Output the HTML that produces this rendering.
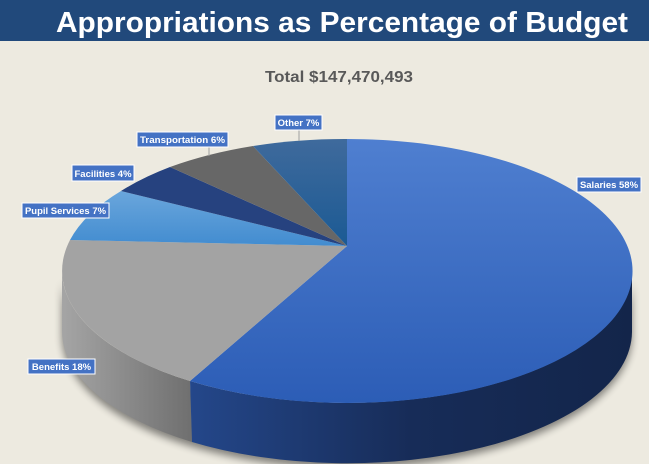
<!DOCTYPE html>
<html><head><meta charset="utf-8"><style>html,body{margin:0;padding:0;background:#edeae0;}svg{display:block}</style></head>
<body>
<svg width="649" height="464" viewBox="0 0 649 464" xmlns="http://www.w3.org/2000/svg" font-family="Liberation Sans, sans-serif">
<defs>
<linearGradient id="sideB" x1="0" x2="1" y1="0" y2="0"><stop offset="0" stop-color="#24478a"/><stop offset="0.5" stop-color="#172c58"/><stop offset="1" stop-color="#13254a"/></linearGradient>
<linearGradient id="sideG" x1="0" x2="1" y1="0" y2="0"><stop offset="0" stop-color="#a5a5a5"/><stop offset="1" stop-color="#6f6f6f"/></linearGradient>
<linearGradient id="sal" x1="0" x2="0" y1="0" y2="1"><stop offset="0" stop-color="#4f7fd0"/><stop offset="1" stop-color="#2c5db6"/></linearGradient>
<linearGradient id="oth" x1="0" x2="0" y1="0" y2="1"><stop offset="0" stop-color="#3f6a9c"/><stop offset="1" stop-color="#1b5a94"/></linearGradient>
<linearGradient id="pup" x1="0" x2="0" y1="0" y2="1"><stop offset="0" stop-color="#6aa6dc"/><stop offset="1" stop-color="#428cd0"/></linearGradient>
<filter id="sh" x="-10%" y="-10%" width="120%" height="130%"><feGaussianBlur stdDeviation="4"/></filter>
</defs>
<rect width="649" height="464" fill="#edeae0"/>
<rect width="649" height="41" fill="#21497b"/>
<text x="56" y="32" font-size="29" font-weight="bold" fill="#fff" textLength="572" lengthAdjust="spacingAndGlyphs">Appropriations as Percentage of Budget</text>
<text x="339" y="82" font-size="16" font-weight="bold" fill="#595959" text-anchor="middle" textLength="148" lengthAdjust="spacingAndGlyphs">Total $147,470,493</text>
<!-- shadow -->
<path d="M62 278 A285 132 0 0 0 632 278 L632 336 A285 132 0 0 1 62 336 Z" fill="#000" opacity="0.45" filter="url(#sh)"/>
<!-- sides -->
<path d="M62 271 A285 132 0 0 0 190 381 L192 442 A285 132 0 0 1 62 332 Z" fill="url(#sideG)"/>
<path d="M190 381 A285 132 0 0 0 632 271 L632 332 A285 132 0 0 1 192 442 Z" fill="url(#sideB)"/>
<!-- top -->
<path d="M347 246 L347 139 A285 132 0 1 1 190 381 Z" fill="url(#sal)"/>
<path d="M347 246 L190 381 A285 132 0 0 1 70 240 Z" fill="#a3a3a3"/>
<path d="M347 246 L70 240 A285 132 0 0 1 121 191 Z" fill="url(#pup)"/>
<path d="M347 246 L121 191 A285 132 0 0 1 170 167 Z" fill="#26427f"/>
<path d="M347 246 L170 167 A285 132 0 0 1 253 146 Z" fill="#676767"/>
<path d="M347 246 L253 146 A285 132 0 0 1 347 139 Z" fill="url(#oth)"/>
<!-- leader lines -->
<g stroke="#a0a0a0" stroke-width="1">
<line x1="299" y1="130" x2="299" y2="141"/>
<line x1="209" y1="147" x2="209" y2="156"/>
</g>
<!-- labels -->
<g font-size="9.5" font-weight="bold" fill="#fff">
<rect x="577" y="177" width="64" height="15" fill="#4472c4" stroke="#fff"/><text x="609" y="188" text-anchor="middle">Salaries 58%</text>
<rect x="28" y="359" width="67" height="15" fill="#4472c4" stroke="#fff"/><text x="61.5" y="370" text-anchor="middle">Benefits 18%</text>
<rect x="22" y="203" width="87" height="15" fill="#4472c4" stroke="#fff"/><text x="65.5" y="214" text-anchor="middle" textLength="81" lengthAdjust="spacingAndGlyphs">Pupil Services 7%</text>
<rect x="72" y="165" width="62" height="16" fill="#4472c4" stroke="#fff"/><text x="103" y="177" text-anchor="middle">Facilities 4%</text>
<rect x="137" y="132" width="91" height="15" fill="#4472c4" stroke="#fff"/><text x="182.5" y="143" text-anchor="middle" textLength="85" lengthAdjust="spacingAndGlyphs">Transportation 6%</text>
<rect x="275" y="115" width="47" height="15" fill="#4472c4" stroke="#fff"/><text x="298.5" y="126" text-anchor="middle">Other 7%</text>
</g>
</svg>
</body></html>
